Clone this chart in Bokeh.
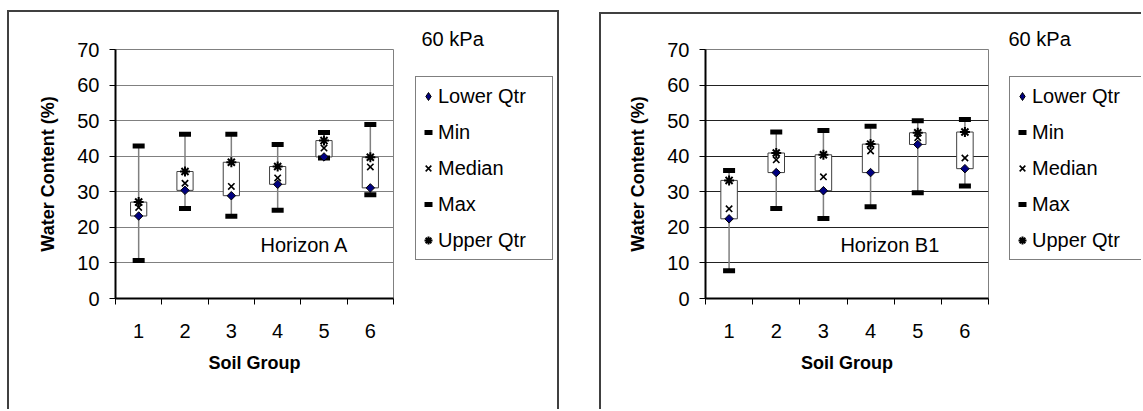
import math
from bokeh.plotting import figure
from bokeh.layouts import row, column
from bokeh.models import Range1d, FixedTicker, Legend, LegendItem, Label
from bokeh.embed import file_html
from bokeh.resources import INLINE

# ---- data ----
groups = [1, 2, 3, 4, 5, 6]
y_ticks = [0, 10, 20, 30, 40, 50, 60, 70]

a_min = [10.7, 25.3, 23.1, 24.8, 39.5, 29.2]
a_lq = [23.2, 30.4, 28.9, 32.1, 39.8, 31.1]
a_med = [25.6, 32.4, 31.5, 33.9, 42.3, 37.0]
a_uq = [27.1, 35.7, 38.3, 37.1, 44.4, 39.7]
a_max = [42.9, 46.2, 46.2, 43.3, 46.7, 48.9]

b_min = [7.8, 25.3, 22.5, 25.8, 29.7, 31.6]
b_lq = [22.4, 35.4, 30.3, 35.4, 43.3, 36.5]
b_med = [25.2, 39.0, 34.2, 41.5, 45.2, 39.5]
b_uq = [33.2, 40.9, 40.4, 43.4, 46.6, 46.8]
b_max = [36.0, 46.8, 47.2, 48.4, 50.0, 50.3]

series_names = ["Lower Qtr", "Min", "Median", "Max", "Upper Qtr"]
pressure_text = "60 kPa"
x_title = "Soil Group"
y_title = "Water Content (%)"

FONT = "Liberation Sans"
BORDER = "2px solid #404040"
FRAME_H = 249


def draw_series(p, mins, lqs, meds, uqs, maxs, for_legend=False):
    """box-plot marks; returns the renderers in legend order"""
    p.segment(x0=groups, y0=mins, x1=groups, y1=maxs, line_color="#808080", line_width=1.5)
    p.vbar(x=groups, bottom=lqs, top=uqs, width=0.35, fill_color="white",
           line_color="#404040", line_width=1)
    r_min = p.scatter(x=groups, y=mins, marker="dash", size=12, line_width=5, line_color="black")
    r_max = p.scatter(x=groups, y=maxs, marker="dash", size=12, line_width=5, line_color="black")
    if for_legend:
        r_lq = p.scatter(x=groups, y=lqs, marker="diamond", size=9,
                         fill_color="#000080", line_color="black", line_width=1)
    else:
        r_lq = p.scatter(x=groups, y=lqs, marker="square", angle=math.pi / 4, size=6,
                         fill_color="#000080", line_color="black", line_width=1)
    r_med = p.scatter(x=groups, y=meds, marker="x", size=9, line_color="black", line_width=1.6)
    r_uq = p.scatter(x=groups, y=uqs, marker="asterisk", size=10, line_color="black", line_width=2)
    return [r_lq, r_min, r_med, r_max, r_uq]


def make_main(width, height, b_left, b_top, data, horizon, horizon_x, grid_color):
    p = figure(width=width, height=height,
               x_range=Range1d(0.5, 6.5), y_range=Range1d(0, 70),
               output_backend="svg", toolbar_location=None,
               min_border_left=b_left, min_border_right=5,
               min_border_top=b_top, min_border_bottom=height - b_top - FRAME_H)
    p.background_fill_color = "white"
    p.border_fill_color = "white"
    p.outline_line_color = "#808080"
    p.outline_line_width = 1

    p.xgrid.visible = False
    p.ygrid.ticker = FixedTicker(ticks=y_ticks)
    p.ygrid.grid_line_color = grid_color
    p.ygrid.grid_line_width = 1

    ya = p.yaxis[0]
    ya.ticker = FixedTicker(ticks=y_ticks)
    ya.axis_line_width = 2
    ya.axis_line_color = "black"
    ya.major_tick_out = 6
    ya.major_tick_in = 0
    ya.major_tick_line_color = "black"
    ya.minor_tick_line_color = None
    ya.major_label_text_font = FONT
    ya.major_label_text_font_size = "20px"
    ya.major_label_text_color = "black"
    ya.major_label_standoff = 10
    ya.axis_label = y_title
    ya.axis_label_text_font = FONT
    ya.axis_label_text_font_size = "18px"
    ya.axis_label_text_font_style = "bold"
    ya.axis_label_text_color = "black"
    ya.axis_label_standoff = 16

    xa = p.xaxis[0]
    bounds = [g - 0.5 for g in groups] + [groups[-1] + 0.5]
    xa.ticker = FixedTicker(ticks=groups, minor_ticks=bounds)
    xa.axis_line_width = 2
    xa.axis_line_color = "black"
    xa.major_tick_out = 0
    xa.major_tick_in = 0
    xa.minor_tick_out = 6
    xa.minor_tick_in = 0
    xa.minor_tick_line_color = "black"
    xa.major_label_text_font = FONT
    xa.major_label_text_font_size = "20px"
    xa.major_label_text_color = "black"
    xa.major_label_standoff = 19
    xa.axis_label = x_title
    xa.axis_label_text_font = FONT
    xa.axis_label_text_font_size = "18px"
    xa.axis_label_text_font_style = "bold"
    xa.axis_label_text_color = "black"
    xa.axis_label_standoff = 12

    draw_series(p, *data)
    p.add_layout(Label(x=horizon_x, y=14.9, text=horizon, text_font=FONT,
                       text_font_size="20px", text_baseline="middle", text_align="left",
                       text_color="black"))
    return p


def make_legend_fig(width, height, b_top, data, leg_left, leg_bottom, kpa_offset):
    # frame spans the same rows as the main frame; the x range lies left of
    # the groups so the legend-source marks are outside and not shown
    q = figure(width=width, height=height,
               x_range=Range1d(-10, 0), y_range=Range1d(0, 70),
               x_axis_type=None, y_axis_type=None,
               output_backend="svg", toolbar_location=None,
               min_border_left=0, min_border_right=0,
               min_border_top=b_top, min_border_bottom=height - b_top - FRAME_H)
    q.outline_line_color = None
    q.background_fill_color = "white"
    q.border_fill_color = "white"
    q.xgrid.visible = False
    q.ygrid.visible = False

    q.title.text = pressure_text
    q.title.align = "left"
    q.title.offset = kpa_offset
    q.title.standoff = 0
    q.title.vertical_align = "bottom"
    q.title.text_font = FONT
    q.title.text_font_size = "20px"
    q.title.text_font_style = "normal"
    q.title.text_color = "black"

    rs = draw_series(q, *data, for_legend=True)
    legend = Legend(items=[LegendItem(label=n, renderers=[r]) for n, r in zip(series_names, rs)],
                    location=(leg_left, leg_bottom))
    legend.padding = 2
    legend.margin = 0
    legend.glyph_width = 20
    legend.glyph_height = 34
    legend.label_height = 34
    legend.spacing = 2
    legend.label_standoff = 0
    legend.label_width = 112
    legend.label_text_font = FONT
    legend.label_text_font_size = "20px"
    legend.label_text_color = "black"
    legend.border_line_color = "black"
    legend.border_line_width = 1
    legend.background_fill_color = "white"
    legend.background_fill_alpha = 1
    q.add_layout(legend, "center")
    return q


data_a = (a_min, a_lq, a_med, a_uq, a_max)
data_b = (b_min, b_lq, b_med, b_uq, b_max)

# left panel: figures start at x=9, y=12 ; frame 115..393 x 49..298
m1 = make_main(389, 397, 106, 37, data_a, "Horizon A", 3.63, "#808080")
l1 = make_legend_fig(159, 397, 37, data_a, 17, 38, 23)
# right panel: figures start at x=601, y=14 ; frame 705..988 x 49..298
m2 = make_main(392, 395, 104, 35, data_b, "Horizon B1", 3.36, "#222222")
l2 = make_legend_fig(148, 395, 35, data_b, 16, 38, 15)

c1 = column(row(m1, l1), margin=(10, 0, 0, 7),
            styles={"border-top": BORDER, "border-left": BORDER, "border-right": BORDER})
c2 = column(row(m2, l2), margin=(12, 0, 0, 40),
            styles={"border-top": BORDER, "border-left": BORDER})

layout = row(c1, c2)
open("out.html", "w").write(file_html(layout, INLINE))
